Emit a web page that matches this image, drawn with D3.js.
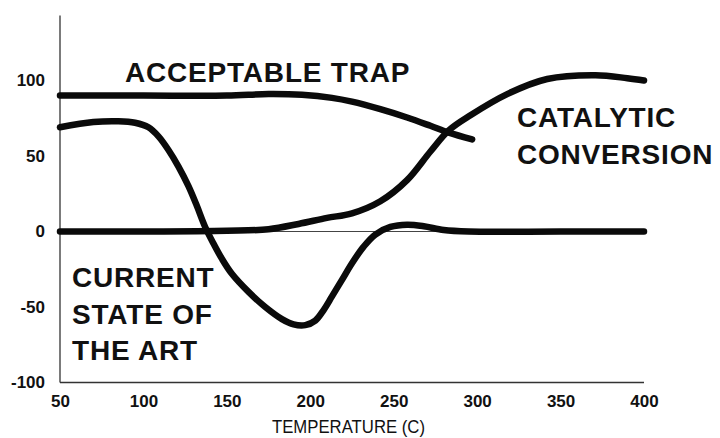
<!DOCTYPE html>
<html>
<head>
<meta charset="utf-8">
<script src="https://cdn.jsdelivr.net/npm/d3@7"></script>
<style>
  body { margin: 0; background: #fff; }
  svg { display: block; }
  .tick text { font-family: "Liberation Sans", Arial, sans-serif; font-weight: bold; font-size: 17px; fill: #111; }
  .label { font-family: "Liberation Sans", Arial, sans-serif; font-weight: bold; font-size: 28px; fill: #111; letter-spacing: 0.8px; }
</style>
</head>
<body>
<svg id="chart"></svg>
<script>
// temperature vs. conversion sketch

var xTicks = [50, 100, 150, 200, 250, 300, 350, 400];
var yTicks = [-100, -50, 0, 50, 100];

// acceptable trap
var trapTemp = [50, 100, 150, 175, 195, 213, 225, 242, 258, 272, 283, 297];
var trapVal = [90, 90, 90, 91, 90.5, 88.5, 86, 81, 75.5, 70, 65.5, 61];

// catalytic conversion
var convTemp = [50, 100, 150, 175, 193, 210, 225, 242, 258, 272, 283, 296, 318, 342, 371, 390, 400];
var convVal = [0, 0, 0.5, 1.5, 5, 9, 12, 20, 34, 53, 67, 77, 91, 101, 103.5, 101.5, 100];

// current state of the art
var artTemp = [50, 70, 85, 95, 103, 109, 115, 121, 127, 132, 137, 142, 147, 153, 163, 173, 183, 190, 197, 203, 208, 213, 219, 225, 232, 239, 248, 258, 268, 280, 295, 350, 400];
var artVal = [69, 72.5, 73, 72, 69, 63, 54, 43, 30, 17, 3, -8, -18, -28, -40, -50, -58, -61.5, -62, -59, -52, -43, -32, -21, -10, -2, 3, 4.5, 3.5, 1, 0, 0, 0];

var labels = [
  { lines: ["ACCEPTABLE TRAP"], x: 125, y: 82 },
  { lines: ["CATALYTIC", "CONVERSION"], x: 517, y: 127 },
  { lines: ["CURRENT", "STATE OF", "THE ART"], x: 72, y: 287 }
];

var width = 720, height = 438;
var svg = d3.select('#chart').attr('width', width).attr('height', height);

var x = d3.scaleLinear().domain([50, 400]).range([60, 644]);
var y = d3.scaleLinear().domain([-100, 100]).range([382.5, 80.5]);

// axis lines
svg.append('line')
  .attr('x1', 60).attr('x2', 60)
  .attr('y1', y(143)).attr('y2', y(-100))
  .attr('stroke', '#333').attr('stroke-width', 1.3);

svg.append('line')
  .attr('x1', 60).attr('x2', x(400))
  .attr('y1', y(-100)).attr('y2', y(-100))
  .attr('stroke', '#333').attr('stroke-width', 1.5);

// zero line
svg.append('line')
  .attr('x1', 60).attr('x2', x(400))
  .attr('y1', y(0)).attr('y2', y(0))
  .attr('stroke', '#444').attr('stroke-width', 1);

var xAxis = d3.axisBottom(x).tickValues(xTicks).tickSize(0).tickPadding(12).tickFormat(String);
var yAxis = d3.axisLeft(y).tickValues(yTicks).tickSize(0).tickPadding(15).tickFormat(String);

svg.append('g')
  .attr('transform', 'translate(0,' + y(-100) + ')')
  .call(xAxis)
  .call(function (g) { g.select('.domain').remove(); });

svg.append('g')
  .attr('transform', 'translate(60,0)')
  .call(yAxis)
  .call(function (g) { g.select('.domain').remove(); });

svg.append('text')
  .attr('x', 272)
  .attr('y', 433)
  .attr('textLength', 153)
  .attr('lengthAdjust', 'spacingAndGlyphs')
  .style('font-family', '"Liberation Sans Narrow", "Arial Narrow", "Liberation Sans", Arial, sans-serif')
  .style('font-size', '18px')
  .style('fill', '#111')
  .text('TEMPERATURE (C)');

var line = d3.line()
  .x(function (d) { return x(d[0]); })
  .y(function (d) { return y(d[1]); })
  .curve(d3.curveCatmullRom.alpha(0.5));

function zip(a, b) {
  return a.map(function (v, i) { return [v, b[i]]; });
}

[zip(trapTemp, trapVal), zip(convTemp, convVal), zip(artTemp, artVal)].forEach(function (pts) {
  svg.append('path')
    .datum(pts)
    .attr('d', line)
    .attr('fill', 'none')
    .attr('stroke', '#0a0a0a')
    .attr('stroke-width', 6.5)
    .attr('stroke-linecap', 'round')
    .attr('stroke-linejoin', 'round');
});

labels.forEach(function (l) {
  var t = svg.append('text').attr('class', 'label');
  l.lines.forEach(function (s, i) {
    t.append('tspan')
      .attr('x', l.x)
      .attr('y', l.y + i * 36.5)
      .text(s);
  });
});
</script>
</body>
</html>
